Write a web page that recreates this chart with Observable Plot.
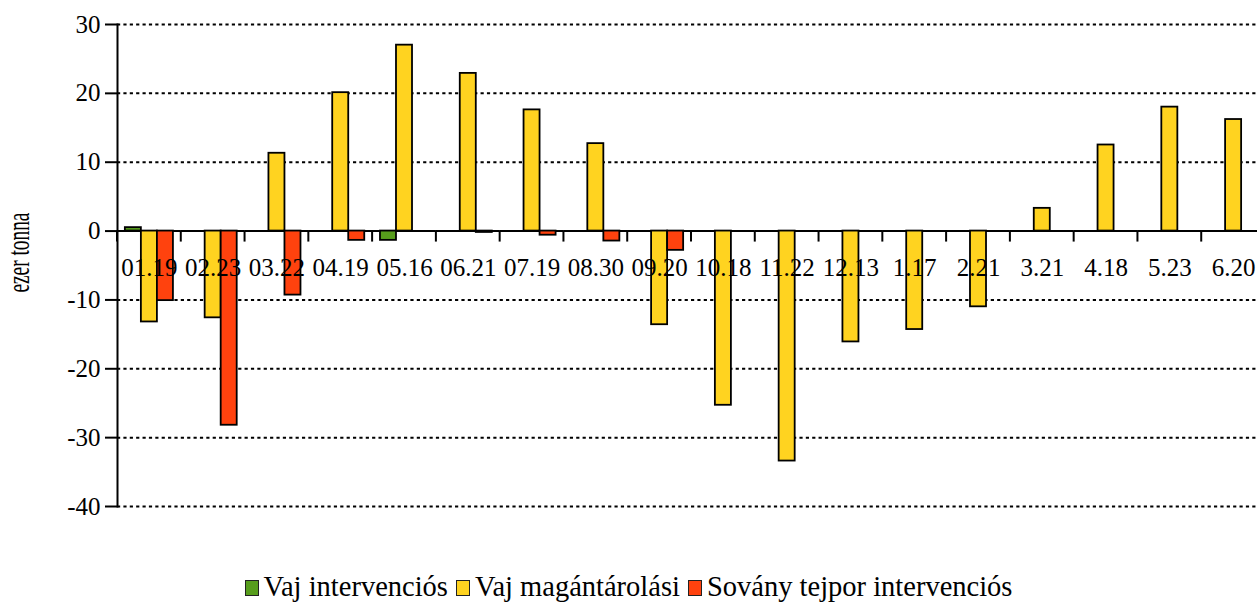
<!DOCTYPE html>
<html>
<head>
<meta charset="utf-8">
<script src="https://cdn.jsdelivr.net/npm/d3@7"></script>
<script src="https://cdn.jsdelivr.net/npm/@observablehq/plot@0.6"></script>
<style>
  html, body { margin: 0; padding: 0; background: #fff; overflow: hidden; }
  #wrap { width: 1257px; height: 603px; overflow: hidden; }
  #chart svg { display: block; max-width: none !important; }
  #chart svg text { font-family: "Liberation Serif", "DejaVu Serif", "Times New Roman", serif; }
  #legend { width: 1257px; padding-top: 13px; line-height: 28px; text-align: center;
            font-family: "Liberation Serif", "DejaVu Serif", "Times New Roman", serif; font-size: 28.5px; color: #000; white-space: nowrap; }
  #legend .item { display: inline-block; margin: 0 4px; }
  #legend .sw { display: inline-block; width: 12px; height: 14px; border: 1px solid #222; margin-right: 5px; vertical-align: baseline; }
</style>
</head>
<body>
<div id="wrap">
  <div id="chart"></div>
  <div id="legend"></div>
</div>
<script>
const categories = ["01.19","02.23","03.22","04.19","05.16","06.21","07.19","08.30","09.20","10.18","11.22","12.13","1.17","2.21","3.21","4.18","5.23","6.20"];
const seriesNames = ["Vaj intervenciós","Vaj magántárolási","Sovány tejpor intervenciós"];
const seriesColors = ["#579d1c","#ffd320","#ff420e"];
const vajIntervencios  = [0.5, null, null, null, -1.35, null, null, null, null, null, null, null, null, null, null, null, null, null];
const vajMagantarolasi = [-13.2, -12.6, 11.3, 20.1, 27.0, 22.9, 17.6, 12.7, -13.6, -25.3, -33.4, -16.1, -14.3, -11.0, 3.3, 12.5, 18.0, 16.2];
const sovanyTejpor     = [-10.1, -28.2, -9.3, -1.35, null, -0.2, -0.6, -1.45, -2.8, null, null, null, null, null, null, null, null, null];
const yTicks = [-40, -30, -20, -10, 0, 10, 20, 30];
const yLabel = "ezer tonna";

const seriesValues = [vajIntervencios, vajMagantarolasi, sovanyTejpor];
const rows = [];
categories.forEach((c, i) => {
  seriesValues.forEach((arr, j) => {
    if (arr[i] != null) rows.push({category: c, series: seriesNames[j], value: arr[i]});
  });
});
const catRows = categories.map(c => ({category: c, zero: 0}));

const serif = "Liberation Serif, DejaVu Serif, Times New Roman, serif";

const chart = Plot.plot({
  width: 1265,
  height: 560,
  marginLeft: 117,
  marginRight: 0,
  marginTop: 24,
  marginBottom: 54,
  style: {fontFamily: serif, fontSize: "25px", color: "#000", background: "#fff", maxWidth: "none"},
  fx: {domain: categories, padding: 0, round: false, axis: null, label: null},
  x: {domain: seriesNames, paddingInner: 0, paddingOuter: 0.49, round: false, axis: null, label: null},
  y: {domain: [-40, 30], axis: null, label: null},
  color: {domain: seriesNames, range: seriesColors},
  marks: [
    Plot.gridY(yTicks, {stroke: "#000", strokeOpacity: 1, strokeWidth: 2, strokeDasharray: "3.19,3.19"}),
    Plot.ruleY([0], {stroke: "#000", strokeWidth: 2}),
    Plot.barY(rows, {fx: "category", x: "series", y: "value", fill: "series", stroke: "#000", strokeWidth: 1.8}),
    Plot.text(catRows, {fx: "category", y: "zero", text: "category", dy: 37, fontSize: 25, fontFamily: serif, fill: "#000"}),
    Plot.axisY(yTicks, {tickSize: 12, tickPadding: 5, tickFormat: d => String(d), fontSize: 25, fontFamily: serif, strokeWidth: 2, label: null}),
    Plot.frame({anchor: "left", facetAnchor: "left", stroke: "#000", strokeWidth: 2})
  ]
});
document.getElementById("chart").appendChild(chart);

// category boundary ticks on the zero line, using Plot's fx and y scales
const fxS = chart.scale("fx");
const yS = chart.scale("y");
const band = d3.scaleBand().domain(fxS.domain).range(fxS.range).paddingInner(0).paddingOuter(0);
const y0 = yS.apply ? yS.apply(0) : d3.scaleLinear().domain(yS.domain).range(yS.range)(0);
const svg = d3.select(chart);
const g = svg.append("g").attr("stroke", "#000").attr("stroke-width", 2);
categories.forEach(c => {
  const x = band(c);
  g.append("line").attr("x1", x).attr("x2", x).attr("y1", y0).attr("y2", y0 + 11);
});

// y-axis title
svg.append("text")
  .attr("transform", `translate(29, ${y0 + 22}) rotate(-90)`)
  .attr("text-anchor", "middle")
  .attr("font-family", serif)
  .attr("font-size", 32)
  .attr("textLength", 80)
  .attr("lengthAdjust", "spacingAndGlyphs")
  .attr("fill", "#000")
  .text(yLabel);

// legend
const legend = d3.select("#legend");
seriesNames.forEach((name, i) => {
  const item = legend.append("span").attr("class", "item");
  item.append("span").attr("class", "sw").style("background", seriesColors[i]);
  item.append("span").text(name);
});
</script>
</body>
</html>
